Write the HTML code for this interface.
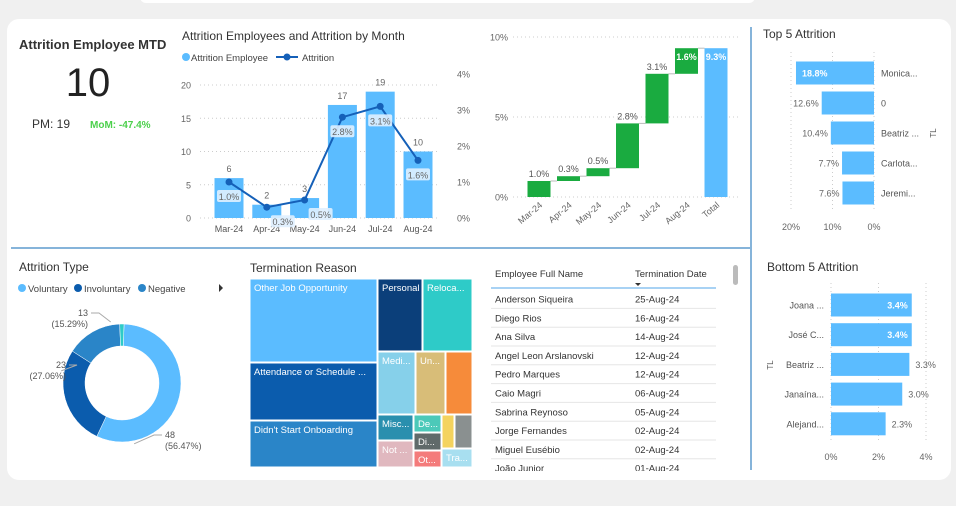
<!DOCTYPE html>
<html><head><meta charset="utf-8"><style>
body{margin:0;width:956px;height:506px;background:#f0f0f0;overflow:hidden;font-family:"Liberation Sans",sans-serif}
svg{position:absolute;left:0;top:0}
text{font-family:"Liberation Sans",sans-serif}
</style></head><body>
<svg id="s" width="956" height="506" viewBox="0 0 956 506">
<rect x="140" y="-10" width="615" height="13" rx="6" fill="#fff"/>
<rect x="7" y="19" width="944" height="461" rx="12" fill="#fff"/>
<line x1="11" y1="248" x2="750" y2="248" stroke="#86b4da" stroke-width="2"/>
<line x1="751" y1="27" x2="751" y2="470" stroke="#86b4da" stroke-width="2"/>
<g>
<text x="19" y="49" font-size="13" font-weight="bold" fill="#333">Attrition Employee MTD</text>
<text x="88" y="96" font-size="40" text-anchor="middle" fill="#222">10</text>
<text x="32" y="128" font-size="12" fill="#333">PM:  19</text>
<text x="90" y="128" font-size="10" font-weight="bold" fill="#4cd04c">MoM:  -47.4%</text>
</g>
<g id="combo">
<text x="182" y="40" font-size="12" fill="#333">Attrition Employees and Attrition by Month</text>
<circle cx="186" cy="57" r="4" fill="#5bbcff"/>
<text x="191" y="61" font-size="9.5" fill="#444">Attrition Employee</text>
<line x1="276" y1="57" x2="298" y2="57" stroke="#1560b8" stroke-width="2"/>
<circle cx="287" cy="57" r="3.5" fill="#1560b8"/>
<text x="302" y="61" font-size="9.5" fill="#444">Attrition</text>
</g>
<g id="wf"></g>
<g id="top5">
<text x="763" y="38" font-size="12" fill="#333">Top 5 Attrition</text>
<text x="936" y="133" font-size="8" fill="#555" transform="rotate(-90 936 133)" text-anchor="middle">TL</text>
</g>
<g id="bot5">
<text x="767" y="271" font-size="12" fill="#333">Bottom 5 Attrition</text>
<text x="773" y="365" font-size="8" fill="#555" transform="rotate(-90 773 365)" text-anchor="middle">TL</text>
</g>
<g id="donut">
<text x="19" y="271" font-size="12" fill="#333">Attrition Type</text>
<circle cx="22" cy="288" r="4" fill="#5bbcff"/><text x="28" y="292" font-size="9.5" fill="#444">Voluntary</text>
<circle cx="78" cy="288" r="4" fill="#0b5cad"/><text x="84" y="292" font-size="9.5" fill="#444">Involuntary</text>
<circle cx="142" cy="288" r="4" fill="#2a85c8"/><text x="148" y="292" font-size="9.5" fill="#444">Negative</text>
<path d="M219 284 L223 288 L219 292Z" fill="#333"/>
</g>
<g id="tree">
<text x="250" y="272" font-size="12" fill="#333">Termination Reason</text>
</g>
<g id="table">
<text x="495" y="277" font-size="9.5" fill="#333">Employee Full Name</text>
<text x="635" y="277" font-size="9.5" fill="#333">Termination Date</text>
<path d="M635 283 L641 283 L638 286Z" fill="#333"/>
<line x1="491" y1="288" x2="716" y2="288" stroke="#8cc4f0" stroke-width="1.5"/>
<rect x="733" y="265" width="5" height="20" rx="2.5" fill="#bbb"/>
</g>
</svg>
<script>
const NS="http://www.w3.org/2000/svg";
function el(p,t,a,txt){const e=document.createElementNS(NS,t);for(const k in a)e.setAttribute(k,a[k]);if(txt!==undefined)e.textContent=txt;p.appendChild(e);return e;}
// combo data
const months=["Mar-24","Apr-24","May-24","Jun-24","Jul-24","Aug-24"];
const empCounts=[6,2,3,17,19,10];
const attrRate=[1.0,0.3,0.5,2.8,3.1,1.6];
const leftTicks=[0,5,10,15,20];
const rightTicks=[0,1,2,3,4];
// waterfall data
const wfCats=["Mar-24","Apr-24","May-24","Jun-24","Jul-24","Aug-24","Total"];
const wfVals=[1.0,0.3,0.5,2.8,3.1,1.6];
const wfTicks=[0,5,10];
// top/bottom data
const topNames=["Monica...","0","Beatriz ...","Carlota...","Jeremi..."];
const topVals=[18.8,12.6,10.4,7.7,7.6];
const topTicks=[20,10,0];
const botNames=["Joana ...","José C...","Beatriz ...","Janaína...","Alejand..."];
const botVals=[3.4,3.4,3.3,3.0,2.3];
const botTicks=[0,2,4];
// donut data
const donutCats=["Voluntary","Involuntary","Negative","Other"];
const donutVals=[48,23,13,1];
// table data
const empNames=["Anderson Siqueira","Diego Rios","Ana Silva","Angel Leon Arslanovski","Pedro Marques","Caio Magri","Sabrina Reynoso","Jorge Fernandes","Miguel Eusébio","João Junior"];
const termDates=["25-Aug-24","16-Aug-24","14-Aug-24","12-Aug-24","12-Aug-24","06-Aug-24","05-Aug-24","02-Aug-24","02-Aug-24","01-Aug-24"];

// combo
(function(){
const g=document.getElementById('combo');
const y=v=>218-v*6.65, yr=v=>218-v*36, x=i=>229+i*37.8;
leftTicks.forEach(t=>{const l=el(g,'line',{x1:200,x2:440,y1:y(t),y2:y(t),stroke:'#ccc','stroke-dasharray':'1 3'});

const tx=el(g,'text',{x:191,y:y(t)+3.5,'font-size':9,fill:'#666','text-anchor':'end'},t);
});
rightTicks.forEach(t=>{const tx=el(g,'text',{x:457,y:yr(t)+3.5,'font-size':9,fill:'#666'},t+'%');
});
empCounts.forEach((v,i)=>{const r=el(g,'rect',{x:x(i)-14.5,y:y(v),width:29,height:y(0)-y(v),fill:'#5bbcff'});

const t=el(g,'text',{x:x(i),y:y(v)-6,'font-size':9,fill:'#666','text-anchor':'middle'},v);

const m=el(g,'text',{x:x(i),y:227+5,'font-size':9,fill:'#555','text-anchor':'middle'},months[i]);
});
const pts=attrRate.map((v,i)=>x(i)+','+yr(v)).join(' ');
const pl=el(g,'polyline',{points:pts,fill:'none',stroke:'#1560b8','stroke-width':2});

attrRate.forEach((v,i)=>{const lx=x(i)+(i==1||i==2?16:0), ly=yr(v)+16;
const b=el(g,'rect',{x:lx-12,y:ly-8,width:24,height:12,rx:2,fill:'#dff0ff',opacity:0.9});

const t=el(g,'text',{x:lx,y:ly+2,'font-size':9,fill:'#666','text-anchor':'middle'},v.toFixed(1)+'%');

const c=el(g,'circle',{cx:x(i),cy:yr(v),r:3.5,fill:'#1560b8'});
});
})();
// waterfall
(function(){
const g=document.getElementById('wf');
const y=v=>197-v*16, x=i=>539+i*29.5;
wfTicks.forEach(t=>{const l=el(g,'line',{x1:513,x2:740,y1:y(t),y2:y(t),stroke:'#ccc','stroke-dasharray':'1 3'});

const tx=el(g,'text',{x:508,y:y(t)+3.5,'font-size':9,fill:'#666','text-anchor':'end'},t+'%');
});
let cum=0;
wfVals.forEach((v,i)=>{const r=el(g,'rect',{x:x(i)-11.5,y:y(cum+v),width:23,height:v*16,fill:'#1aab40'});

const inside=i==5;
const t=el(g,'text',{x:x(i),y:inside?y(cum+v)+12:y(cum+v)-4,'font-size':9,fill:inside?'#fff':'#555','font-weight':inside?'bold':'normal','text-anchor':'middle'},v.toFixed(1)+'%');

cum+=v;
const c=el(g,'line',{x1:x(i)+11.5,x2:x(i+1)-11.5,y1:y(cum),y2:y(cum),stroke:'#bbb'});
});
const ti=6;
const r=el(g,'rect',{x:x(ti)-11.5,y:y(cum),width:23,height:cum*16,fill:'#5bbcff'});

const t=el(g,'text',{x:x(ti),y:y(cum)+12,'font-size':9,fill:'#fff','font-weight':'bold','text-anchor':'middle'},cum.toFixed(1)+'%');

wfCats.forEach((c,i)=>{const tx=el(g,'text',{x:x(i)+4,y:206,'font-size':9,fill:'#666','text-anchor':'end',transform:`rotate(-40 ${x(i)+4} 206)`},c);
});
})();
// top5
(function(){
const g=document.getElementById('top5');
const x=v=>874-v*4.15, y=i=>73+i*30;
topTicks.forEach(t=>{const l=el(g,'line',{x1:x(t),x2:x(t),y1:52,y2:212,stroke:'#ccc','stroke-dasharray':'1 3'});

const tx=el(g,'text',{x:x(t),y:230,'font-size':9,fill:'#666','text-anchor':'middle'},t+'%');
});
topVals.forEach((v,i)=>{const r=el(g,'rect',{x:x(v),y:y(i)-11.5,width:874-x(v),height:23,fill:'#5bbcff'});

const inside=i==0;
const t=el(g,'text',{x:inside?x(v)+6:x(v)-3,y:y(i)+3.5,'font-size':9,fill:inside?'#fff':'#666','font-weight':inside?'bold':'normal','text-anchor':inside?'start':'end'},v.toFixed(1)+'%');

const n=el(g,'text',{x:881,y:y(i)+3.5,'font-size':9,fill:'#555'},topNames[i]);
});
})();
// bottom5
(function(){
const g=document.getElementById('bot5');
const x=v=>831+v*23.75, y=i=>305+i*29.7;
botTicks.forEach(t=>{const l=el(g,'line',{x1:x(t),x2:x(t),y1:283,y2:443,stroke:'#ccc','stroke-dasharray':'1 3'});

const tx=el(g,'text',{x:x(t),y:460,'font-size':9,fill:'#666','text-anchor':'middle'},t+'%');
});
botVals.forEach((v,i)=>{const r=el(g,'rect',{x:831,y:y(i)-11.5,width:x(v)-831,height:23,fill:'#5bbcff'});

const inside=i<2;
const t=el(g,'text',{x:inside?x(v)-4:x(v)+6,y:y(i)+3.5,'font-size':9,fill:inside?'#fff':'#666','font-weight':inside?'bold':'normal','text-anchor':inside?'end':'start'},v.toFixed(1)+'%');

const n=el(g,'text',{x:824,y:y(i)+3.5,'font-size':9,fill:'#555','text-anchor':'end'},botNames[i]);
});
})();
// donut
(function(){
const g=document.getElementById('donut');
const cx=122,cy=383,R=59,r=37,cols=["#5bbcff","#0b5cad","#2a85c8","#2ecbc8"];
// label layout: [leader angle fraction within slice, text x, text y, anchor]
const lab=[[0.82,165,438,'start'],[0.78,66,368,'end'],[0.85,88,316,'end']];
const tot=donutVals.reduce((a,b)=>a+b,0);
let a=2*Math.PI/180;
const P=(ang,rad)=>[cx+rad*Math.sin(ang),cy-rad*Math.cos(ang)];
donutVals.forEach((v,i)=>{const a2=a+v/tot*2*Math.PI,lg=(a2-a)>Math.PI?1:0;
const p1=P(a,R),p2=P(a2,R),p3=P(a2,r),p4=P(a,r);
const p=el(g,'path',{d:`M${p1} A${R} ${R} 0 ${lg} 1 ${p2} L${p3} A${r} ${r} 0 ${lg} 0 ${p4}Z`,fill:cols[i],stroke:'#fff','stroke-width':0.5});

if(i<3){const L=lab[i];const ang=a+(a2-a)*L[0],q=P(ang,R+3);
const start=L[3]=='start';const ex=start?L[1]-3:L[1]+3, ey=L[2]-3;
const ln=el(g,'polyline',{points:`${q} ${start?ex-8:ex+8},${ey} ${ex},${ey}`,fill:'none',stroke:'#aaa'});

const t1=el(g,'text',{x:L[1],y:L[2],'font-size':9,fill:'#555','text-anchor':L[3]},v);

const t2=el(g,'text',{x:L[1],y:L[2]+11,'font-size':9,fill:'#555','text-anchor':L[3]},'('+(v/tot*100).toFixed(2)+'%)');
}
a=a2;});
})();
// treemap
(function(){
const g=document.getElementById('tree');
const cells=[[250,279,127,83,"#5bbcff","Other Job Opportunity"],[250,363,127,57,"#0b5cad","Attendance or Schedule ..."],[250,421,127,46,"#2a85c8","Didn't Start Onboarding"],
[378,279,44,72,"#0b3f7a","Personal"],[423,279,49,72,"#2ecbc8","Reloca..."],[378,352,37,62,"#86d0ea","Medi..."],[416,352,29,62,"#d8bd78","Un..."],[446,352,26,62,"#f68b3a",""],
[378,415,35,25,"#2a8fae","Misc..."],[378,441,35,26,"#e0b8bf","Not ..."],[414,415,27,17,"#4cc9b9","De..."],[414,433,27,17,"#606a6a","Di..."],[414,451,27,16,"#f47b7b","Ot..."],
[442,415,12,33,"#f4d35e",""],[455,415,17,33,"#8a9090",""],[442,449,30,18,"#a8dff0","Tra..."]];
cells.forEach(c=>{const r=el(g,'rect',{x:c[0],y:c[1],width:c[2],height:c[3],fill:c[4],stroke:'#fff','stroke-width':1});

if(c[5]){const t=el(g,'text',{x:c[0]+4,y:c[1]+12,'font-size':9.5,fill:'#fff'},c[5]);
}});
})();
// table
(function(){
const g=document.getElementById('table');
const cl=el(g,'clipPath',{id:'tc'});el(cl,'rect',{x:490,y:289,width:230,height:182});
const body=el(g,'g',{'clip-path':'url(#tc)'});
empNames.forEach((n,i)=>{const yy=299+i*18.8;
const a=el(body,'text',{x:495,y:yy+3.5,'font-size':9.5,fill:'#333'},n);

const b=el(body,'text',{x:635,y:yy+3.5,'font-size':9.5,fill:'#333'},termDates[i]);

const l=el(body,'line',{x1:491,x2:716,y1:yy+9.4,y2:yy+9.4,stroke:'#e6e6e6'});
});
})();
</script>
</body></html>
